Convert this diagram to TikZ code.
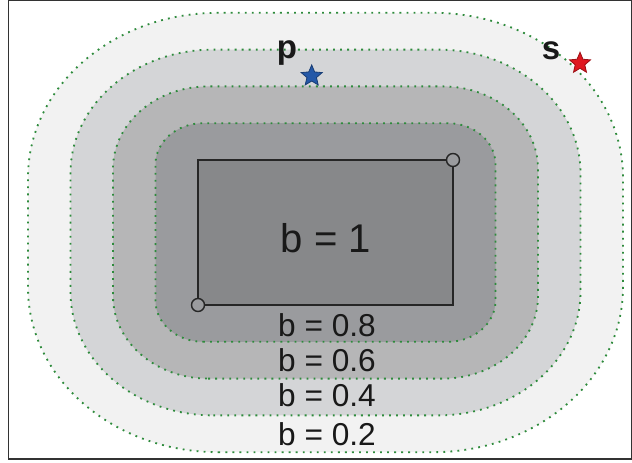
\documentclass[tikz,border=0pt]{standalone}
\usepackage{fontspec}
\setmainfont{Liberation Sans}
\usetikzlibrary{shapes.geometric}
\definecolor{lvltwo}{HTML}{F2F2F2}
\definecolor{lvlfour}{HTML}{D4D5D7}
\definecolor{lvlsix}{HTML}{B6B6B7}
\definecolor{lvleight}{HTML}{9A9B9E}
\definecolor{lvlone}{HTML}{87888A}
\definecolor{contour}{HTML}{2E8B3C}
\definecolor{pblue}{HTML}{2458A8}
\definecolor{sred}{HTML}{E01820}

\begin{document}
\begin{tikzpicture}[x=0.025cm, y=0.025cm,
    contourline/.style={draw=contour, line width=1.3pt, dash pattern=on 1.3pt off 3.7pt},
    bval/.style={inner sep=0pt, text=black!90, font=\fontsize{22.5}{27}\selectfont},
    tag/.style={inner sep=0pt, text=black!90, font=\fontsize{23.5}{28}\selectfont\bfseries},
    endpt/.style={draw=black!85, fill=lvleight, circle, line width=1pt, minimum size=0.325cm, inner sep=0pt},
    starmark/.style={star, star points=5, star point ratio=2.2, inner sep=0pt, minimum size=0.55cm, line width=0.6pt}]

    \useasboundingbox (0,0) rectangle (632,462);

    % Levels
    \foreach \k/\col in {4/lvltwo, 3/lvlfour, 2/lvlsix, 1/lvleight}{
        \pgfmathsetmacro\L{198-42.5*\k}
        \pgfmathsetmacro\R{453+42.5*\k}
        \pgfmathsetmacro\B{157-36.8*\k}
        \pgfmathsetmacro\T{302+36.8*\k}
        \pgfmathsetmacro\rx{47.6*\k}
        \pgfmathsetmacro\ry{41.2*\k}
        \path[contourline, fill=\col] (\L+\rx,\B) -- (\R-\rx,\B)
            arc[start angle=-90, end angle=0, x radius=\rx, y radius=\ry] -- (\R,\T-\ry)
            arc[start angle=0, end angle=90, x radius=\rx, y radius=\ry] -- (\L+\rx,\T)
            arc[start angle=90, end angle=180, x radius=\rx, y radius=\ry] -- (\L,\B+\ry)
            arc[start angle=180, end angle=270, x radius=\rx, y radius=\ry] -- cycle;
    }

    % Box
    \coordinate (ll) at (198,157);
    \coordinate (ur) at (453,302);
    \draw[draw=black!85, line width=1.1pt, fill=lvlone] (ll) rectangle (ur);
    \node[endpt] (llend) at (ll) {};
    \node[endpt] (urend) at (ur) {};

    % Labels
    \node[bval, font=\fontsize{28.5}{34}\selectfont] (bone) at (326,224) {b = 1};
    \node[bval] (beight) at (327,137) {b = 0.8};
    \node[bval] (bsix) at (327,102) {b = 0.6};
    \node[bval] (bfour) at (327,67) {b = 0.4};
    \node[bval] (btwo) at (327,28.3) {b = 0.2};

    % Points
    \node[starmark, fill=pblue, draw=pblue!70!black] (pstar) at (311.7,386) {};
    \node[starmark, fill=sred, draw=sred!70!black] (sstar) at (580,398.7) {};
    \node[tag, anchor=base] (ptag) at (287,403) {p};
    \node[tag, anchor=base] (stag) at (551,402) {s};

    % Frame
    \draw[black!80, line width=1.1pt] (8.3,3) rectangle (631.5,461.3);
\end{tikzpicture}
\end{document}
